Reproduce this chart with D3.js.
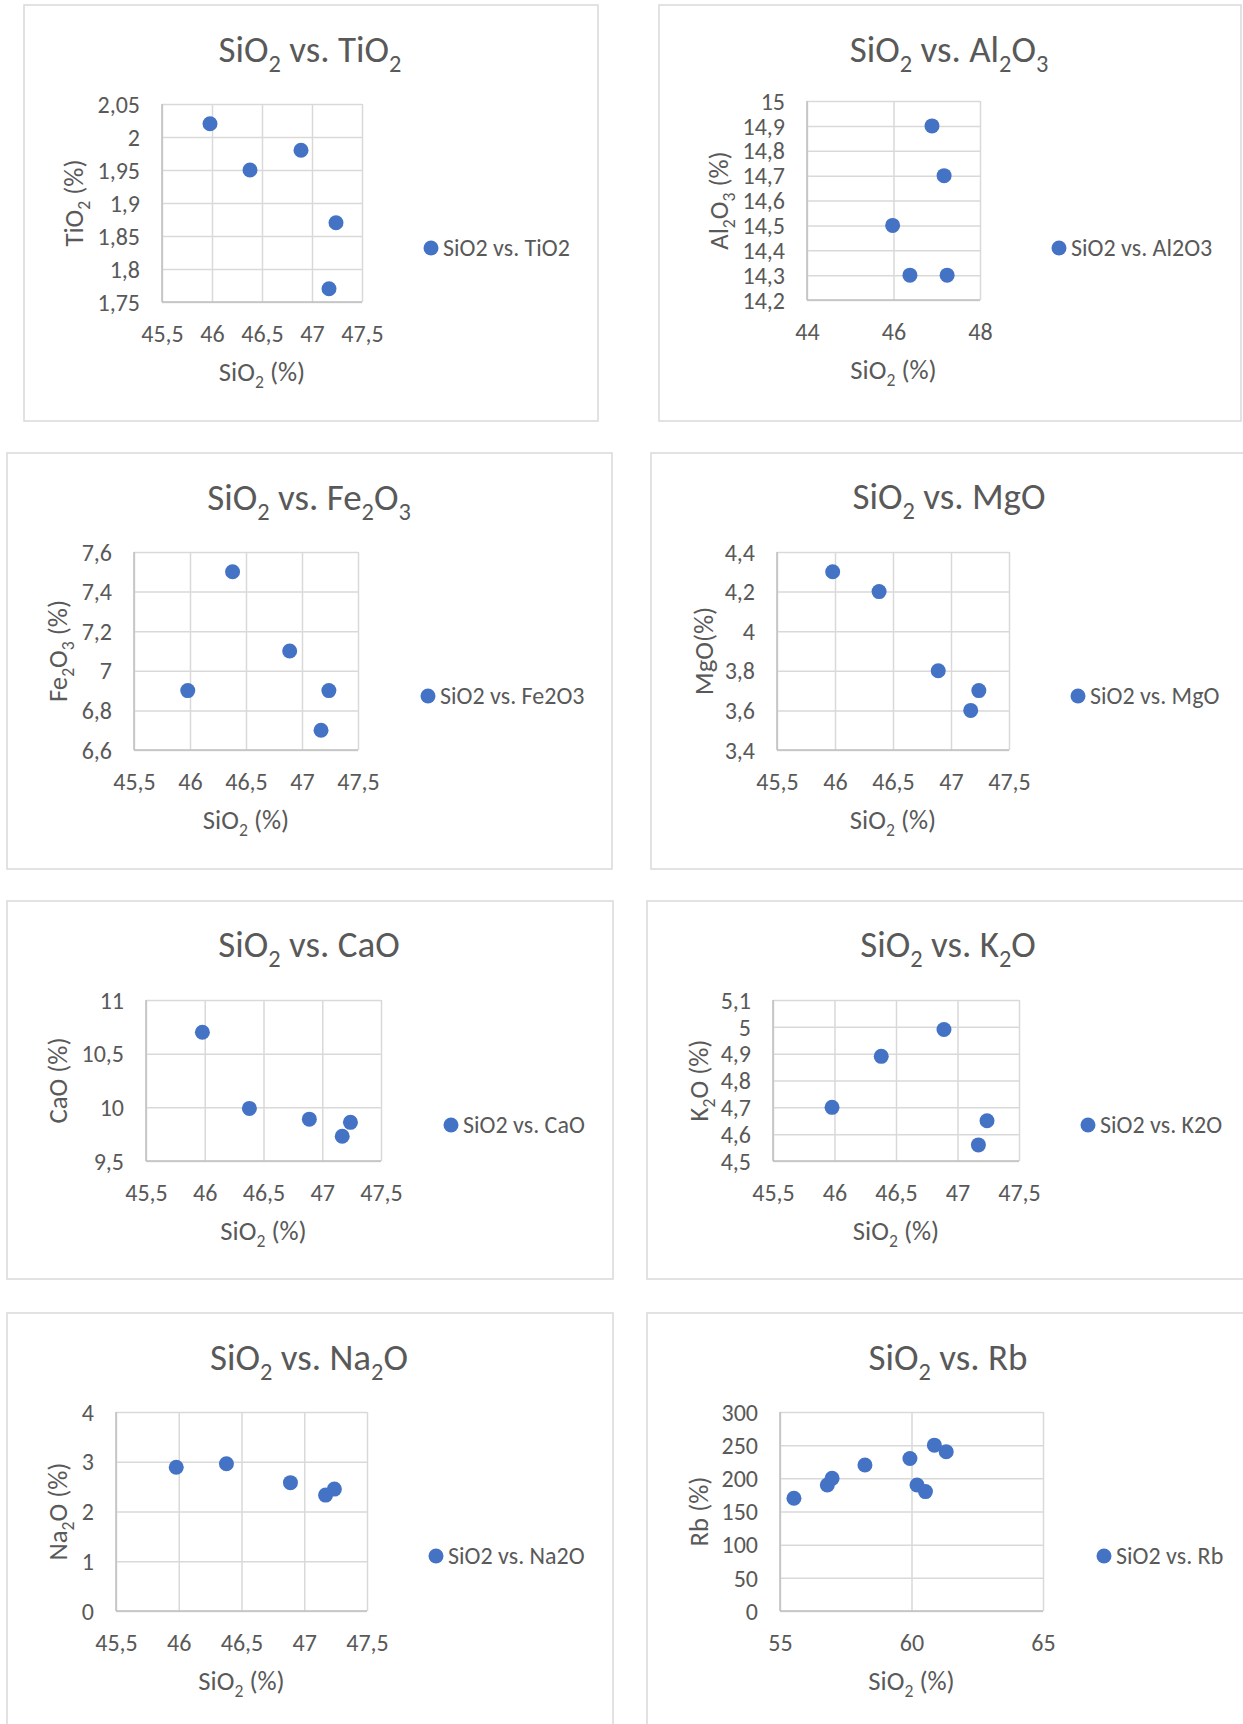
<!DOCTYPE html>
<html>
<head>
<meta charset="utf-8">
<script src="https://cdn.jsdelivr.net/npm/d3@7"></script>
<style>
  html, body { margin: 0; padding: 0; background: #ffffff; }
  svg { display: block; }
  text { font-family: Carlito, Lato, "Open Sans", sans-serif; fill: #595959; }
</style>
</head>
<body>
<svg id="chart" width="1243" height="1724"></svg>
<script>
// ---------------- DATA ----------------
const sio2   = [45.98, 46.38, 46.89, 47.24, 47.17];
const tio2   = [2.02, 1.95, 1.98, 1.87, 1.77];
const al2o3  = [14.5, 14.3, 14.9, 14.3, 14.7];
const fe2o3  = [6.9, 7.5, 7.1, 6.9, 6.7];
const mgo    = [4.3, 4.2, 3.8, 3.7, 3.6];
const cao    = [10.7, 9.99, 9.89, 9.86, 9.73];
const k2o    = [4.7, 4.89, 4.99, 4.65, 4.56];
const na2o   = [2.89, 2.96, 2.58, 2.45, 2.33];
const sio2Rb = [55.53, 56.8, 56.98, 58.23, 59.94, 60.87, 61.32, 60.21, 60.53];
const rb     = [170, 190, 200, 220, 230, 250, 240, 190, 180];

// tick values
const xTicksOx = [45.5, 46, 46.5, 47, 47.5];
const xTicksAl = [44, 46, 48];
const xTicksRb = [55, 60, 65];
const yTicksTi = [1.75, 1.8, 1.85, 1.9, 1.95, 2, 2.05];
const yTicksAl = [14.2, 14.3, 14.4, 14.5, 14.6, 14.7, 14.8, 14.9, 15];
const yTicksFe = [6.6, 6.8, 7, 7.2, 7.4, 7.6];
const yTicksMg = [3.4, 3.6, 3.8, 4, 4.2, 4.4];
const yTicksCa = [9.5, 10, 10.5, 11];
const yTicksK  = [4.5, 4.6, 4.7, 4.8, 4.9, 5, 5.1];
const yTicksNa = [0, 1, 2, 3, 4];
const yTicksRb = [0, 50, 100, 150, 200, 250, 300];

// texts ("_" marks a subscript digit)
const chartTitles  = ["SiO_2 vs. TiO_2", "SiO_2 vs. Al_2O_3", "SiO_2 vs. Fe_2O_3", "SiO_2 vs. MgO",
                      "SiO_2 vs. CaO", "SiO_2 vs. K_2O", "SiO_2 vs. Na_2O", "SiO_2 vs. Rb"];
const yTitles      = ["TiO_2 (%)", "Al_2O_3 (%)", "Fe_2O_3 (%)", "MgO(%)",
                      "CaO (%)", "K_2O (%)", "Na_2O (%)", "Rb (%)"];
const xTitle       = "SiO_2 (%)";
const legendLabels = ["SiO2 vs. TiO2", "SiO2 vs. Al2O3", "SiO2 vs. Fe2O3", "SiO2 vs. MgO",
                      "SiO2 vs. CaO", "SiO2 vs. K2O", "SiO2 vs. Na2O", "SiO2 vs. Rb"];

const xSeries = [sio2, sio2, sio2, sio2, sio2, sio2, sio2, sio2Rb];
const ySeries = [tio2, al2o3, fe2o3, mgo, cao, k2o, na2o, rb];
const xTickSets = [xTicksOx, xTicksAl, xTicksOx, xTicksOx, xTicksOx, xTicksOx, xTicksOx, xTicksRb];
const yTickSets = [yTicksTi, yTicksAl, yTicksFe, yTicksMg, yTicksCa, yTicksK, yTicksNa, yTicksRb];

// ---------------- LAYOUT ----------------
const layout = [
  {frame:[24,5,598,421],     plot:[162,104,362,302],   titleX:310, titleY:62,   yTitleX:83,  legend:[431,248]},
  {frame:[659,5,1241,421],   plot:[807,101,980,300],   titleX:949, titleY:62,   yTitleX:728, legend:[1059,248]},
  {frame:[7,453,612,869],    plot:[134,552,358,750],   titleX:309, titleY:510,  yTitleX:67,  legend:[428,696]},
  {frame:[651,453,1250,869], plot:[777,552,1009,750],  titleX:949, titleY:509,  yTitleX:713, legend:[1078,696]},
  {frame:[7,901,613,1279],   plot:[146,1000,381,1161], titleX:309, titleY:957,  yTitleX:67,  legend:[451,1125]},
  {frame:[647,901,1250,1279],plot:[773,1000,1019,1161],titleX:948, titleY:957,  yTitleX:708, legend:[1088,1125]},
  {frame:[7,1313,613,1740],  plot:[116,1412,367,1611], titleX:309, titleY:1370, yTitleX:67,  legend:[436,1556]},
  {frame:[647,1313,1250,1740],plot:[780,1412,1043,1611],titleX:948, titleY:1370, yTitleX:708, legend:[1104,1556]}
];

const TITLE_SIZE = 37, AXIS_TITLE_SIZE = 26.7, TICK_SIZE = 24, LEGEND_SIZE = 24;
const MARKER = "#4472C4", GRID = "#D9D9D9", AXIS = "#BFBFBF", FRAME = "#D9D9D9";
const R = 7.5;

const fmt = v => String(v).replace(".", ",");

function richText(sel, str, size) {
  const tokens = str.split(/(_\d)/).filter(s => s.length);
  let shifted = false;
  const off = size * 0.27;
  tokens.forEach(tok => {
    if (tok.startsWith("_")) {
      sel.append("tspan").attr("font-size", size * 0.66).attr("dy", off).text(tok.slice(1));
      shifted = true;
    } else {
      const t = sel.append("tspan").attr("font-size", size).text(tok);
      if (shifted) { t.attr("dy", -off); shifted = false; }
    }
  });
}

const svg = d3.select("#chart");
svg.append("rect").attr("width", 1243).attr("height", 1724).attr("fill", "#fff");

layout.forEach((L, i) => {
  const g = svg.append("g");
  const [fx0, fy0, fx1, fy1] = L.frame;
  g.append("rect").attr("x", fx0).attr("y", fy0).attr("width", fx1 - fx0).attr("height", fy1 - fy0)
    .attr("fill", "#fff").attr("stroke", FRAME).attr("stroke-width", 1.5);

  const [px0, py0, px1, py1] = L.plot;
  const xt = xTickSets[i], yt = yTickSets[i];
  const x = d3.scaleLinear().domain([xt[0], xt[xt.length - 1]]).range([px0, px1]);
  const y = d3.scaleLinear().domain([yt[0], yt[yt.length - 1]]).range([py1, py0]);

  // vertical grid + x labels
  const gx = g.append("g").attr("transform", `translate(0,${py1})`)
    .call(d3.axisBottom(x).tickValues(xt).tickSize(-(py1 - py0)).tickFormat(fmt));
  gx.select(".domain").remove();
  gx.selectAll("line").attr("stroke", GRID).attr("stroke-width", 1.5);
  gx.selectAll("text").attr("y", 40).attr("dy", null)
    .attr("font-size", TICK_SIZE).attr("fill", "#595959").attr("font-family", null);

  // horizontal grid + y labels
  const gy = g.append("g").attr("transform", `translate(${px0},0)`)
    .call(d3.axisLeft(y).tickValues(yt).tickSize(-(px1 - px0)).tickFormat(fmt));
  gy.select(".domain").remove();
  gy.selectAll("line").attr("stroke", GRID).attr("stroke-width", 1.5);
  gy.selectAll("text").attr("x", -22).attr("dy", "0.34em")
    .attr("font-size", TICK_SIZE).attr("fill", "#595959").attr("font-family", null);

  // axis lines
  g.append("line").attr("x1", px0).attr("x2", px1).attr("y1", py1).attr("y2", py1)
    .attr("stroke", AXIS).attr("stroke-width", 1.5);
  g.append("line").attr("x1", px0).attr("x2", px0).attr("y1", py0).attr("y2", py1)
    .attr("stroke", AXIS).attr("stroke-width", 1.5);

  // points
  const pts = xSeries[i].map((v, k) => [v, ySeries[i][k]]);
  g.selectAll("circle.pt").data(pts).join("circle").attr("class", "pt")
    .attr("cx", d => x(d[0])).attr("cy", d => y(d[1])).attr("r", R).attr("fill", MARKER);

  // chart title
  const t = g.append("text").attr("x", L.titleX).attr("y", L.titleY).attr("text-anchor", "middle");
  richText(t, chartTitles[i], TITLE_SIZE);

  // x axis title
  const xtT = g.append("text").attr("x", (px0 + px1) / 2).attr("y", py1 + 79).attr("text-anchor", "middle");
  richText(xtT, xTitle, AXIS_TITLE_SIZE);

  // y axis title
  const cy = (py0 + py1) / 2;
  const ytT = g.append("text").attr("text-anchor", "middle")
    .attr("transform", `translate(${L.yTitleX},${cy}) rotate(-90)`);
  richText(ytT, yTitles[i], AXIS_TITLE_SIZE);

  // legend
  const [lx, ly] = L.legend;
  g.append("circle").attr("cx", lx).attr("cy", ly).attr("r", R).attr("fill", MARKER);
  g.append("text").attr("x", lx + 12).attr("y", ly).attr("dy", "0.34em")
    .attr("font-size", LEGEND_SIZE).text(legendLabels[i]);
});
</script>
</body>
</html>
